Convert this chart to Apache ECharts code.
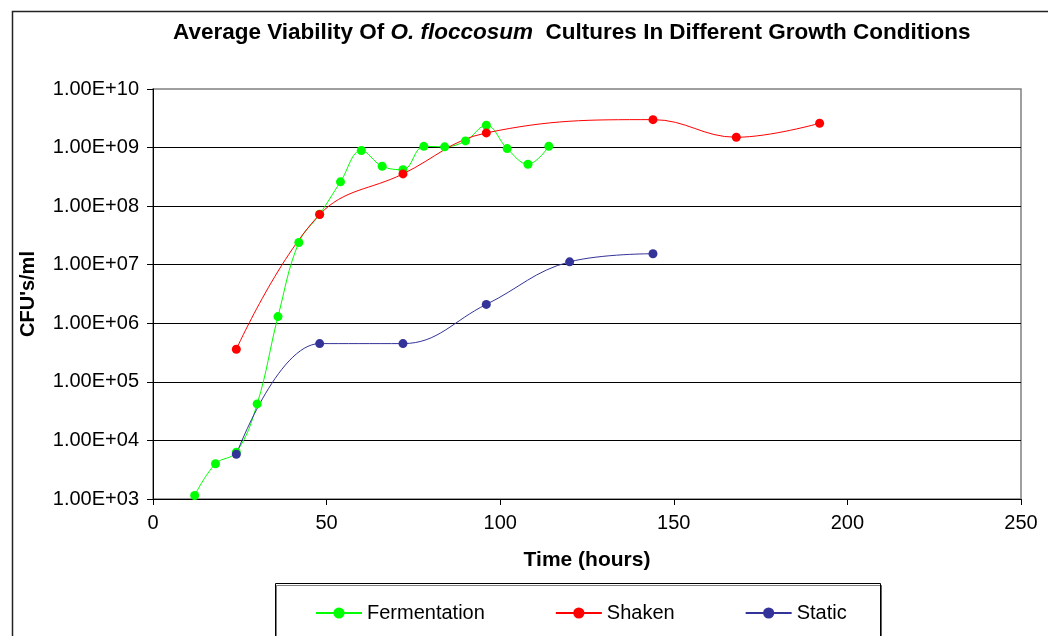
<!DOCTYPE html>
<html>
<head>
<meta charset="utf-8">
<script src="https://cdn.jsdelivr.net/npm/echarts@6/dist/echarts.min.js"></script>
<style>html,body{margin:0;padding:0;background:#fff}#c{width:1048px;height:636px}</style>
</head>
<body>
<div id="c"></div>
<script>
const seriesNames = ['Fermentation', 'Shaken', 'Static'];
const fermHours = [12, 18, 24, 30, 36, 42, 48, 54, 60, 66, 72, 78, 84, 90, 96, 102, 108, 114];
const fermValues = [1.15e3, 4.0e3, 6.3e3, 4.2e4, 1.3e6, 2.4e7, 7.3e7, 2.6e8, 8.9e8, 4.8e8, 4.2e8, 1.05e9, 1.03e9, 1.3e9, 2.4e9, 9.6e8, 5.2e8, 1.05e9];
const shakenHours = [24, 48, 72, 96, 144, 168, 192];
const shakenValues = [3.6e5, 7.2e7, 3.55e8, 1.78e9, 3.0e9, 1.5e9, 2.6e9];
const staticHours = [24, 48, 72, 96, 120, 144];
const staticValues = [5.8e3, 4.5e5, 4.5e5, 2.1e6, 1.12e7, 1.54e7];
const xTicks = [0, 50, 100, 150, 200, 250];
const yTicks = [1e3, 1e4, 1e5, 1e6, 1e7, 1e8, 1e9, 1e10];

const zip = (xs, ys) => xs.map((x, i) => [x, ys[i]]);
const colors = ['#00FF00', '#FF0000', '#333399'];
const font = '"Liberation Sans", Arial, sans-serif';

function fmt(v) {
  const e = Math.round(Math.log10(v));
  const m = v / Math.pow(10, e);
  return m.toFixed(2) + 'E+' + (e < 10 ? '0' + e : '' + e);
}

const chart = echarts.init(document.getElementById('c'));
const mk = (name, data, color) => ({
  name, type: 'line', data, smooth: 0.4,
  symbol: 'circle', symbolSize: 9,
  itemStyle: { color },
  lineStyle: { color, width: 1 },
  emphasis: { disabled: true }
});
chart.setOption({
  animation: false,
  backgroundColor: '#fff',
  title: {
    left: 168, top: 16,
    text: '{a|Average Viability Of }{b|O. floccosum}{a|  Cultures In Different Growth Conditions}',
    textStyle: {
      rich: {
        a: { fontFamily: font, fontWeight: 'bold', fontSize: 22.5, color: '#000' },
        b: { fontFamily: font, fontWeight: 'bold', fontStyle: 'italic', fontSize: 22.5, color: '#000' }
      }
    }
  },
  graphic: [
    { type: 'rect', left: 10, top: 9, shape: { width: 1200, height: 800 }, style: { fill: 'none', stroke: '#222', lineWidth: 1.5 }, z: 100 },
    { type: 'rect', left: 275, top: 583, shape: { width: 605, height: 70 }, style: { fill: '#fff', stroke: '#000', lineWidth: 1, shadowColor: 'rgba(0,0,0,0.5)', shadowOffsetY: 2, shadowOffsetX: 1, shadowBlur: 0 }, z: 0 }
  ],
  legend: {
    left: 310, top: 598, itemWidth: 46, itemHeight: 14, itemGap: 70,
    data: seriesNames,
    textStyle: { fontFamily: font, fontSize: 20, color: '#000' },
    z: 10
  },
  grid: { left: 153, top: 89, right: 27, bottom: 137, show: true, borderColor: '#808080', borderWidth: 1.5 },
  xAxis: {
    type: 'value', min: 0, max: 250, interval: 50,
    name: 'Time (hours)', nameLocation: 'middle', nameGap: 51,
    nameTextStyle: { fontFamily: font, fontWeight: 'bold', fontSize: 21, color: '#000' },
    axisLine: { show: true, onZero: false, lineStyle: { color: '#000', width: 1 } },
    axisTick: { show: true, inside: false, length: 6, lineStyle: { color: '#000' } },
    axisLabel: { margin: 14, fontFamily: font, fontSize: 20, color: '#000', formatter: v => xTicks.includes(v) ? String(v) : '' },
    splitLine: { show: false }
  },
  yAxis: {
    type: 'log', logBase: 10, min: 1e3, max: 1e10,
    name: "CFU's/ml", nameLocation: 'middle', nameGap: 115, nameRotate: 90,
    nameTextStyle: { fontFamily: font, fontWeight: 'bold', fontSize: 20, color: '#000' },
    axisLine: { show: true, lineStyle: { color: '#000', width: 1 } },
    axisTick: { show: true, inside: false, length: 6, lineStyle: { color: '#000' } },
    axisLabel: { margin: 14, fontFamily: font, fontSize: 20, color: '#000', formatter: v => fmt(v) },
    splitLine: { show: true, showMaxLine: false, showMinLine: false, lineStyle: { color: '#000', width: 1 } }
  },
  series: [
    mk(seriesNames[0], zip(fermHours, fermValues), colors[0]),
    mk(seriesNames[1], zip(shakenHours, shakenValues), colors[1]),
    mk(seriesNames[2], zip(staticHours, staticValues), colors[2])
  ]
});
</script>
</body>
</html>
